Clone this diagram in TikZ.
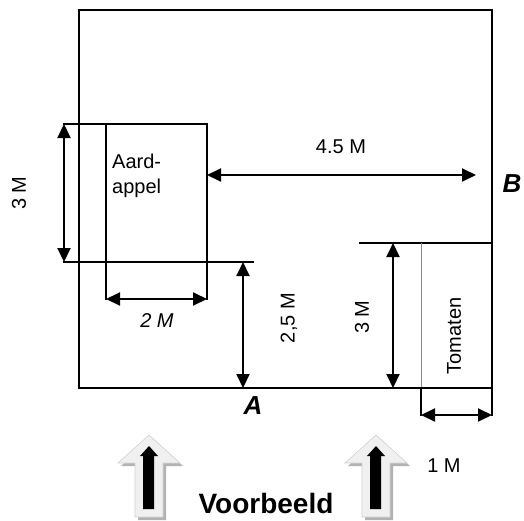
\documentclass[tikz,border=0pt]{standalone}
\usepackage{fontspec}
\setmainfont{Liberation Sans}
\usetikzlibrary{arrows.meta}
\begin{document}
\begin{tikzpicture}[x=1pt,y=-1pt,
  wall/.style={line width=1.5pt, line cap=rect},
  thinwall/.style={line width=0.8pt, draw=black!45},
  dimarrow/.style={line width=2pt,{Triangle[length=14pt,width=13pt]}-{Triangle[length=14pt,width=13pt]}},
  lbl/.style={font=\fontsize{20}{25}\selectfont, inner sep=0pt},
  ilbl/.style={font=\fontsize{20}{25}\selectfont\itshape, inner sep=0pt},
  corner/.style={font=\fontsize{26}{30}\selectfont\bfseries\itshape, inner sep=0pt},
  title/.style={font=\fontsize{28}{32}\selectfont\bfseries, inner sep=0pt},
  blockshadow/.style={fill=black!30, draw=none},
  blockarrow/.style={fill=black!6, draw=black!18, line width=0.6pt},
  innerarrow/.style={fill=black, draw=none}]
\useasboundingbox (0,0) rectangle (524,520);
% named corners
\coordinate (tl) at (79,10);
\coordinate (tr) at (492,10);
\coordinate (bl) at (79,388);
\coordinate (br) at (492,388);
% outer frame
\draw[wall] (tr) -- (tl) -- (bl) -- (br) -- (tr);
% Aardappel bed
\coordinate (aTL) at (64,124);
\coordinate (aTR) at (207,124);
\coordinate (aBL) at (64,262);
\coordinate (aBE) at (253,262);
\coordinate (aL1) at (106,124);
\coordinate (aL2) at (106,299);
\coordinate (aR2) at (207,299);
\draw[wall] (aTL) -- (aTR) -- (aR2);
\draw[wall] (aL1) -- (aL2);
\draw[wall] (aBL) -- (aBE);
\node[lbl, anchor=west, align=left] (aard) at (112,176) {Aard-\\appel};
% Tomaten bed
\coordinate (tT1) at (360,243);
\coordinate (tT2) at (492,243);
\coordinate (tL1) at (421,243);
\coordinate (tL2) at (421,388);
\coordinate (tL3) at (421,415);
\coordinate (tR3) at (492,415);
\draw[wall] (tT1) -- (tT2);
\draw[thinwall] (tL1) -- (tL2);
\draw[wall] (tL2) -- (tL3);
\draw[wall] (br) -- (tR3);
\node[lbl, rotate=90] (tom) at (454,336) {Tomaten};
% dimension arrows
\coordinate (d3a) at (64,124);
\coordinate (d3b) at (64,262);
\draw[dimarrow] (d3a) -- (d3b);
\node[lbl, rotate=90] (l3m) at (19,193) {3 M};
\coordinate (d2a) at (106,299);
\coordinate (d2b) at (207,299);
\draw[dimarrow] (d2a) -- (d2b);
\node[ilbl] (l2m) at (157,321) {2 M};
\coordinate (d45a) at (207,175);
\coordinate (d45b) at (476,175);
\draw[dimarrow] (d45a) -- (d45b);
\node[lbl] (l45) at (341,147) {4.5 M};
\coordinate (d25a) at (243,262);
\coordinate (d25b) at (243,388);
\draw[dimarrow] (d25a) -- (d25b);
\node[lbl, rotate=90] (l25) at (289,318) {2,5 M};
\coordinate (dt3a) at (393,243);
\coordinate (dt3b) at (393,388);
\draw[dimarrow] (dt3a) -- (dt3b);
\node[lbl, rotate=90] (lt3) at (362,317) {3 M};
\coordinate (d1a) at (421,415);
\coordinate (d1b) at (492,415);
\draw[dimarrow] (d1a) -- (d1b);
\node[lbl] (l1m) at (444,466) {1 M};
% corner labels
\node[corner] (A) at (253,406) {A};
\node[corner] (B) at (512,184) {B};
% block arrows
\foreach \cx/\nm in {149/left, 376/right} {
  \fill[blockshadow] ({\cx+3},438) -- ({\cx+34},466) -- ({\cx+17},466) -- ({\cx+17},520) -- ({\cx-11},520) -- ({\cx-11},466) -- ({\cx-28},466) -- cycle;
  \draw[blockarrow] (\cx,435) -- ({\cx+31},463) -- ({\cx+14},463) -- ({\cx+14},517) -- ({\cx-14},517) -- ({\cx-14},463) -- ({\cx-31},463) -- cycle;
  \fill[innerarrow] (\cx,446) -- ({\cx+9},456) -- ({\cx+5},456) -- ({\cx+5},509) -- ({\cx-6},509) -- ({\cx-6},456) -- ({\cx-9},456) -- cycle;
}
\node[title] (voor) at (266,503) {Voorbeeld};
\end{tikzpicture}
\end{document}
